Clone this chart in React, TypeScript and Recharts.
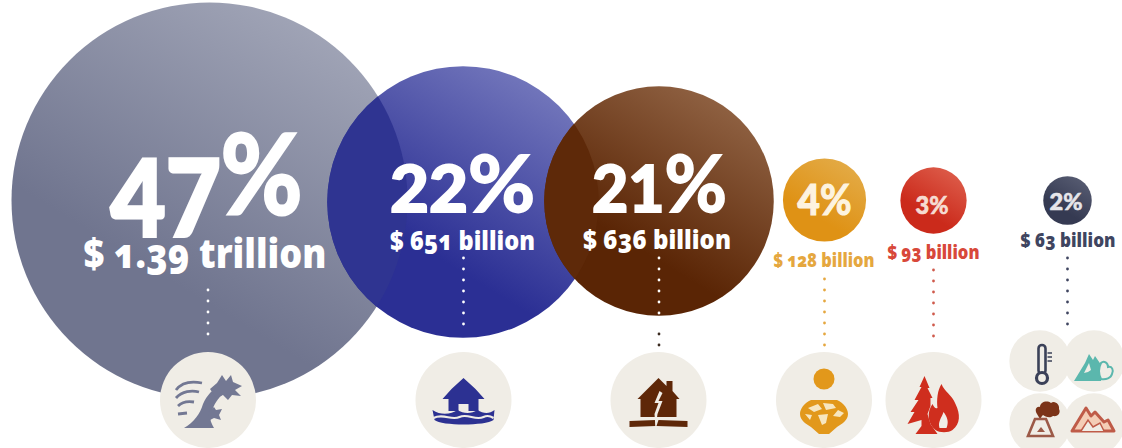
import React from 'react';
import { ScatterChart, Scatter, XAxis, YAxis, ZAxis } from 'recharts';

// values
const hazards = ['storm', 'flood', 'earthquake', 'drought', 'wildfire', 'other'];
const shares = ['47', '22', '21', '4', '3', '2'];
const losses = ['$ 1.39 trillion', '$ 651 billion', '$ 636 billion', '$ 128 billion', '$ 93 billion', '$ 63 billion'];
const bubbleX = [209.5, 463, 659, 824.5, 933.5, 1067.5];
const bubbleY = [200.5, 202, 201, 200, 200.5, 200.5];
const bubbleArea = [100, 47, 33.6, 4.41, 2.8, 1.5];

const iconKinds = ['storm', 'flood', 'earthquake', 'drought', 'wildfire', 'heat', 'avalanche', 'volcano', 'landslide'];
const iconX = [208, 463.5, 658.5, 824, 933.5, 1040, 1094, 1040, 1094];
const iconY = [400, 400, 400, 400, 400, 361, 361, 424, 424];
const iconArea = [5.88, 5.88, 5.88, 5.88, 5.88, 2.4, 2.4, 2.4, 2.4];

const leaderX = [208, 463.5, 659, 824.5, 933.5, 1067.5, 659];
const leaderTop = [290, 258, 258, 279, 270, 258, 334];
const leaderBottom = [342, 334, 316, 346, 346, 326, 346];

const bubbles = hazards.map((name, i) => ({
  name,
  x: bubbleX[i],
  y: bubbleY[i],
  area: bubbleArea[i],
  share: shares[i],
  loss: losses[i],
}));
const icons = iconKinds.map((kind, i) => ({ kind, x: iconX[i], y: iconY[i], area: iconArea[i] }));

// look of each bubble: gradient, overlap colour, text placement relative to the centre
const looks = [
  { from: '#70758f', to: '#a0a4b6', lens: '', text: '#fff', head: [-99, 35, 192, 107, 112, -22], loss: [-126, 67, 243, 40, '#fff'] },
  { from: '#2b2f94', to: '#7276bb', lens: '#2f3491', text: '#fff', head: [-73, 10, 145, 64, 78, 0], loss: [-73, 48, 145, 26, '#fff'] },
  { from: '#5a2505', to: '#8f6142', lens: '#5e2909', text: '#fff', head: [-67, 11, 135, 64, 78, 0], loss: [-76, 48, 148, 26, '#fff'] },
  { from: '#df9215', to: '#e3aa45', lens: '', text: '#fdf3df', head: [-27, 15, 54, 42, 42, 0], loss: [-51, 67, 101, 19, '#e5a73f'] },
  { from: '#cb2a1b', to: '#dc5a48', lens: '', text: '#f6dcd2', head: [-18, 13, 33, 25, 25, 0], loss: [-46, 58, 92, 19, '#d8483a'] },
  { from: '#353a52', to: '#555a70', lens: '', text: '#e6e6ea', head: [-18, 9, 33, 23, 23, 0], loss: [-47, 46, 95, 19, '#3f4560'] },
];

const headFont = 'Lato, "Open Sans", sans-serif';
const lossFont = '"Open Sans", Lato, sans-serif';

const BubbleShape = (props: any) => {
  const { cx, cy, width, payload } = props;
  const i = hazards.indexOf(payload.name);
  const r = width / 2;
  const look = looks[i];
  const [hx, hy, hw, numSize, pctSize, pctRise] = look.head;
  const [lx, ly, lw, lossSize, lossFill] = look.loss as [number, number, number, number, string];
  return (
    <g>
      <defs>
        <linearGradient id={`bubble-${i}`} x1="0.2" y1="0.95" x2="0.75" y2="0.05">
          <stop offset="0.3" stopColor={look.from} />
          <stop offset="1" stopColor={look.to} />
        </linearGradient>
        <clipPath id={`bubble-clip-${i}`}>
          <circle cx={cx} cy={cy} r={r} />
        </clipPath>
      </defs>
      <circle cx={cx} cy={cy} r={r} fill={`url(#bubble-${i})`} />
      {look.lens && <circle cx={cx} cy={cy} r={r} fill={look.lens} clipPath={`url(#bubble-clip-${i - 1})`} />}
      {/* stroke thickens the digits, the installed fonts run lighter than the original */}
      <text
        x={cx + hx}
        y={cy + hy}
        fontFamily={headFont}
        fontWeight={900}
        fill={look.text}
        stroke={look.text}
        strokeWidth={numSize * 0.028}
        textLength={hw}
        lengthAdjust="spacingAndGlyphs"
      >
        <tspan fontSize={numSize}>{payload.share}</tspan>
        <tspan fontSize={pctSize} fontWeight={700} dy={pctRise}>%</tspan>
      </text>
      <text
        x={cx + lx}
        y={cy + ly}
        fontFamily={lossFont}
        fontWeight={800}
        fontSize={lossSize}
        fill={lossFill}
        textLength={lw}
        lengthAdjust="spacingAndGlyphs"
        style={{ fontFeatureSettings: '"onum"' }}
      >
        {payload.loss}
      </text>
    </g>
  );
};

const paper = '#f0ede6';

// pictograms, drawn around the centre of their disc
const glyphs: Record<string, React.ReactNode> = {
  storm: (
    <g fill="#737893">
      <path d="M-24 28 C-14 22 -8 14 -5 4 C-1 -5 5 -11 11 -14 L17 -7 C9 -2 6 5 3 13 C1 20 4 24 6 28 Z" />
      <polygon points="2,-11 9,-17 14,-25 18,-19 23,-25 25,-18 34,-14 27,-10 33,-4 24,-5 20,0 15,-5 8,-2" />
      <polygon points="0,12 6,7 8,10 14,9 11,15 13,20 6,18 2,20" />
      <path d="M-32 -10 C-26 -18 -16 -19 -6 -17 M-32 -2 C-26 -9 -16 -10 -9 -8 M-30 6 C-26 2 -20 1 -14 2 M-30 14 L-21 13" fill="none" stroke="#737893" strokeWidth="2.8" />
    </g>
  ),
  flood: (
    <g>
      <path d="M0 -22 L12 -11 L21 -1 L15 -1 L15 11 L-15 11 L-15 -1 L-21 -1 L-12 -11 Z" fill="#2c3192" />
      <rect x="-5" y="4" width="10" height="7" fill={paper} />
      <path d="M-31 10 C-22 16 -12 14 -6 10 C0 14 8 14 14 10 C20 14 26 14 31 10 L30 20 C22 26 -22 26 -29 20 Z" fill="#2c3192" />
      <path d="M-30 18 C-20 13 -12 21 -4 17 C4 13 12 21 20 17 C24 15 27 16 30 18" fill="none" stroke={paper} strokeWidth="2.2" />
    </g>
  ),
  earthquake: (
    <g fill="#5e2708">
      <path d="M0 -22 L8 -14 L8 -19 L14 -19 L14 -9 L21 -1 L18 -1 L18 17 L-18 17 L-18 -1 L-21 -1 Z" />
      <path d="M-29 21 L-3 20 L-3 26 L-29 27 Z M0 20 L29 21 L29 27 L-2 26 Z" />
      <path d="M1 -9 L-4 3 L0 3 L-4 14 L-3 28 L-1 14 L4 1 L0 1 L4 -7 Z" fill={paper} />
    </g>
  ),
  drought: (
    <g>
      <circle cx="0" cy="-21" r="10.5" fill="#e2981b" />
      <path d="M-13 0 L13 0 C20 3 24 9 24 14 C24 20 18 24 13 27 L5 34 L-5 34 L-13 27 C-18 24 -24 20 -24 14 C-24 9 -20 3 -13 0 Z" fill="#e2981b" />
      <path d="M-16 8 L-6 4 L-2 9 L-10 12 Z M-1 3 L9 4 L12 8 L2 10 Z M14 10 L20 13 L16 17 L9 16 Z M-19 14 L-12 15 L-14 20 Z M-6 15 L4 14 L2 23 L-2 25 Z" fill="#f7e6c0" />
    </g>
  ),
  wildfire: (
    <g fill="#cf2e1e">
      <polygon points="-9,-24 -4,-12 -6,-12 -1,-2 -3,-2 -3,6 -6,14 -3,24 4,34 -18,34 -12,26 -12,20 -26,24 -19,12 -23,12 -15,0 -19,0 -12,-13 -14,-13" />
      <path d="M8 -16 C11 -8 18 -6 22 4 C27 14 27 24 19 30 C15 33 6 33 2 30 C-6 24 -7 12 -1 4 C1 8 2 9 4 8 C3 0 4 -10 8 -16 Z" />
      <path d="M10 12 C13 16 16 21 13 28 L6 28 C4 22 8 18 10 12 Z" fill={paper} />
    </g>
  ),
  heat: (
    <g>
      <rect x="-1.5" y="-16" width="7" height="29" rx="3.5" fill="none" stroke="#3b4158" strokeWidth="2.6" />
      <circle cx="2" cy="17" r="5.5" fill={paper} stroke="#3b4158" strokeWidth="3.2" />
      <path d="M7.5 -8 H12 M7.5 -4 H12 M7.5 0 H12" stroke="#3b4158" strokeWidth="1.5" />
    </g>
  ),
  avalanche: (
    <g>
      <polygon points="-20,20 -9,2 -5,-7 -1,-1 1,-5 10,8 7,20" fill="#5bb7ad" />
      <path d="M7 2 C10 -1 14 2 14 6 C18 5 20 9 18 13 C17 17 12 19 7 18 C4 12 5 6 7 2 Z" fill={paper} stroke="#5bb7ad" strokeWidth="2" />
      <path d="M-10 12 L-5 2 L-3 9 L-6 11 Z" fill={paper} />
    </g>
  ),
  volcano: (
    <g>
      <path d="M-3 -10 C-6 -15 -3 -18 0 -17 C0 -22 7 -24 11 -21 C15 -24 20 -19 19 -15 C21 -11 18 -7 13 -8 C9 -5 5 -8 3 -9 C1 -7 1 -6 0 -5 Z" fill="#7b3318" />
      <path d="M-5 -5 L-12 12 L13 12 L6 -5 Z" fill="none" stroke="#9c5a48" strokeWidth="2.6" />
      <path d="M-3 8 L1 3 L5 8 Z" fill="#9c5a48" />
    </g>
  ),
  landslide: (
    <g>
      <path d="M-22 7 L-8 -16 L-3 -8 L1 -12 L10 -2 L14 -4 L20 7 Z" fill="#f4cdb6" stroke="#bf5b48" strokeWidth="3" strokeLinejoin="round" />
      <path d="M-13 7 L-6 -4 L-1 3 L6 -1 L10 7" fill={paper} stroke="#bf5b48" strokeWidth="1.5" />
    </g>
  ),
};

const DiscShape = (props: any) => {
  const { cx, cy, width } = props;
  return <circle cx={cx} cy={cy} r={width / 2} fill={paper} />;
};

const GlyphShape = (props: any) => {
  const { cx, cy, payload } = props;
  return <g transform={`translate(${cx},${cy})`}>{glyphs[payload.kind]}</g>;
};

const NoDot = () => <g />;

const dotColors = ['#ffffff', '#ffffff', '#ffffff', '#e5a73f', '#cf5a4c', '#3f4560', '#3a2a20'];

export default function App() {
  return (
    <div style={{ position: 'absolute', left: 0, top: 0, background: '#fff' }}>
      <ScatterChart width={1122} height={448} margin={{ top: 0, right: 0, bottom: 0, left: 0 }}>
        <XAxis type="number" dataKey="x" domain={[0, 1122]} hide />
        <YAxis type="number" dataKey="y" domain={[0, 448]} reversed hide />
        <ZAxis type="number" dataKey="area" domain={[0, 100]} range={[0, Math.PI * 198 * 198]} />
        <Scatter data={bubbles} shape={<BubbleShape />} isAnimationActive={false} />
        <Scatter data={icons} shape={<DiscShape />} isAnimationActive={false} />
        <Scatter data={icons} shape={<GlyphShape />} isAnimationActive={false} />
        {leaderX.map((x, i) => (
          <Scatter
            key={i}
            data={[
              { x, y: leaderTop[i], area: 0 },
              { x, y: leaderBottom[i], area: 0 },
            ]}
            shape={<NoDot />}
            line={{ stroke: dotColors[i], strokeWidth: 2.8, strokeDasharray: '0 11', strokeLinecap: 'round' }}
            isAnimationActive={false}
          />
        ))}
      </ScatterChart>
    </div>
  );
}
